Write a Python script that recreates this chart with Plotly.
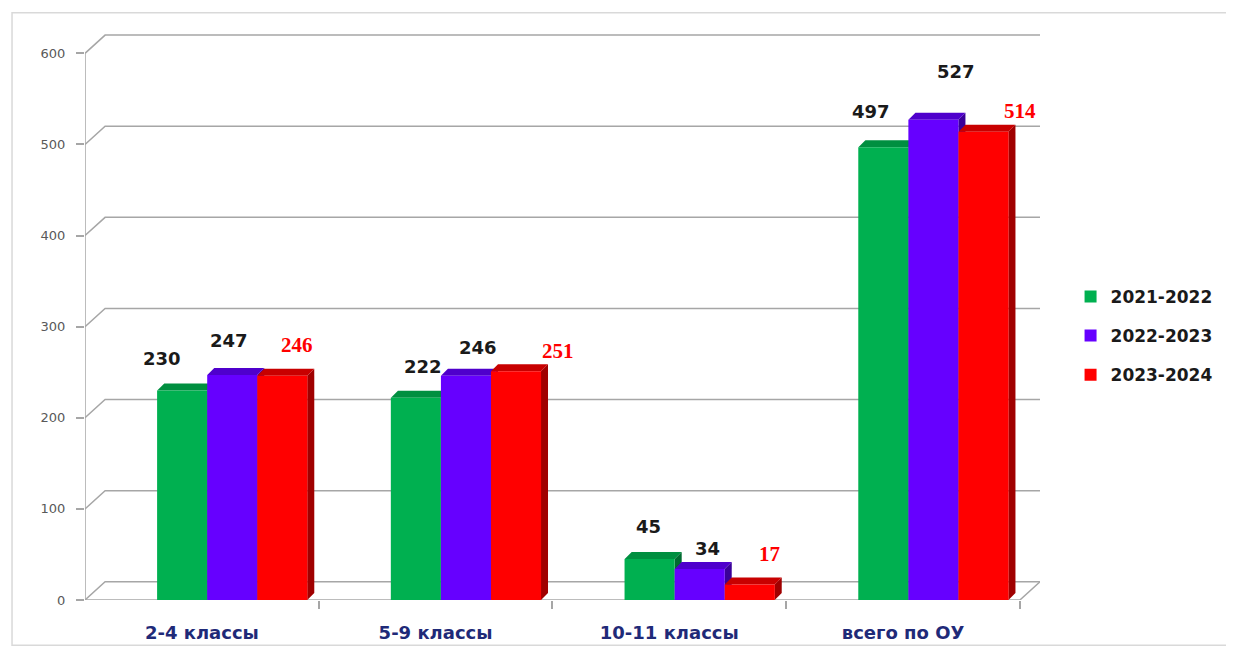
import plotly.graph_objects as go

categories = ["2-4 классы", "5-9 классы", "10-11 классы", "всего по ОУ"]
series_names = ["2021-2022", "2022-2023", "2023-2024"]
values_2021 = [230, 222, 45, 497]
values_2022 = [247, 246, 34, 527]
values_2023 = [246, 251, 17, 514]
y_ticks = [0, 100, 200, 300, 400, 500, 600]

series_values = [values_2021, values_2022, values_2023]
front_colors = ["#00B050", "#6600FF", "#FF0000"]
top_colors = ["#008F40", "#4F00CC", "#C80000"]
side_colors = ["#006B30", "#3A0099", "#A00000"]
label_colors = ["#1A1A1A", "#1A1A1A", "#FF0000"]
label_fonts = ["DejaVu Sans", "DejaVu Sans", "Liberation Serif"]
label_sizes = [18, 18, 21]
# label placement offsets in pixels (style only), per series / per category
label_xshift = [[-20, 7, -1, -12], [-3, 12, 8, 23], [15, 42, 20, 37]]
label_yshift = [[32, 31, 33, 36], [34, 28, 21, 48], [31, 20, 31, 21]]

x_idx = list(range(len(categories)))
bar_shift = 0.13          # bars sit deeper than the labels (3D look)
bar_w = 0.214             # width of one bar in category units
dx, dy = 0.03, 7.7        # bar depth (units)
gdx, gdy = 0.086, 20      # back-wall offset (units)
x_left, x_right = -0.5, 3.5

fig = go.Figure()
for s, (name, vals) in enumerate(zip(series_names, series_values)):
    fig.add_trace(go.Bar(
        x=[i + bar_shift for i in x_idx], y=vals, name=f"<b>{name}</b>",
        marker=dict(color=front_colors[s], line=dict(width=0)),
        legendgroup=name, hoverinfo="x+y",
    ))

shapes = []
for t in y_ticks:
    shapes.append(dict(type="path", xref="x", yref="y", layer="below",
                       path=f"M {x_left},{t} L {x_left+gdx},{t+gdy} L {x_right+gdx},{t+gdy}",
                       line=dict(color="#A6A6A6", width=1.5)))
shapes.append(dict(type="path", xref="x", yref="y", layer="below",
                   path=f"M {x_left},0 L {x_right},0 L {x_right+gdx},{gdy}",
                   line=dict(color="#A6A6A6", width=1.5)))
shapes.append(dict(type="line", xref="x", yref="y", layer="below",
                   x0=x_left, x1=x_left, y0=0, y1=y_ticks[-1],
                   line=dict(color="#A6A6A6", width=1.5)))

for s, vals in enumerate(series_values):
    for i, v in zip(x_idx, vals):
        c = i + bar_shift + (s - 1) * bar_w
        x0, x1 = c - bar_w / 2, c + bar_w / 2
        shapes.append(dict(type="path", xref="x", yref="y", layer="below",
                           path=f"M {x1},0 L {x1},{v} L {x1+dx},{v+dy} L {x1+dx},{dy} Z",
                           fillcolor=side_colors[s], line=dict(width=0)))
        shapes.append(dict(type="path", xref="x", yref="y", layer="below",
                           path=f"M {x0},{v} L {x0+dx},{v+dy} L {x1+dx},{v+dy} L {x1},{v} Z",
                           fillcolor=top_colors[s], line=dict(width=0)))

shapes.append(dict(type="rect", xref="paper", yref="paper",
                   x0=-0.0764, x1=1.2, y0=-0.079, y1=1.023,
                   line=dict(color="#D9D9D9", width=1.5)))

annotations = []
for s, vals in enumerate(series_values):
    for i, v in zip(x_idx, vals):
        c = i + bar_shift + (s - 1) * bar_w
        annotations.append(dict(
            x=c, y=v, xref="x", yref="y", text=f"<b>{v}</b>", showarrow=False,
            xshift=label_xshift[s][i], yshift=label_yshift[s][i],
            font=dict(family=label_fonts[s], size=label_sizes[s], color=label_colors[s]),
        ))

fig.update_layout(
    width=1226, height=646,
    margin=dict(l=77, r=194, t=18, b=54, autoexpand=False),
    paper_bgcolor="white", plot_bgcolor="rgba(0,0,0,0)",
    barmode="group", bargap=0.357, bargroupgap=0,
    shapes=shapes, annotations=annotations,
    showlegend=True,
    legend=dict(x=1.032, y=0.46, yanchor="middle", xanchor="left",
                font=dict(family="DejaVu Sans", size=17, color="#1A1A1A"),
                tracegroupgap=14, traceorder="grouped", bgcolor="rgba(0,0,0,0)",
                itemwidth=30),
    font=dict(family="DejaVu Sans"),
)
fig.update_xaxes(
    range=[x_left, x_right + gdx], tickmode="array", tickvals=x_idx,
    ticktext=[f"<b>{c}</b>" for c in categories],
    showgrid=False, zeroline=False, showline=False, ticks="",
    ticklabelstandoff=20, automargin=False,
    tickfont=dict(family="DejaVu Sans", size=18, color="#1F2A78"),
    minor=dict(tickmode="array", tickvals=[i + 0.5 for i in x_idx], ticks="outside",
               ticklen=8, tickcolor="#A6A6A6", tickwidth=1.5, showgrid=False),
    fixedrange=True,
)
fig.update_yaxes(
    range=[0, 630], tickmode="array", tickvals=y_ticks,
    showgrid=False, zeroline=False, showline=False,
    ticks="outside", ticklen=8, tickcolor="#A6A6A6", tickwidth=1.5,
    tickfont=dict(family="DejaVu Sans", size=13, color="#595959"),
    ticklabelstandoff=8, automargin=False,
    fixedrange=True,
)

fig.write_html("out.html")
